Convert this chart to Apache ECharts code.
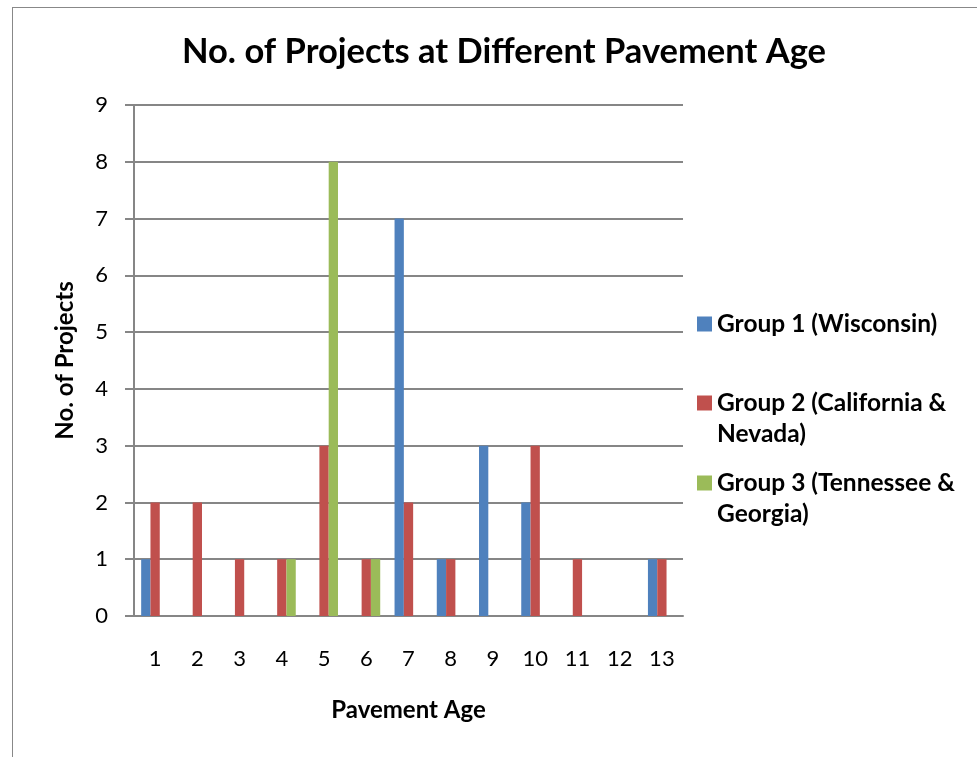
<!DOCTYPE html>
<html>
<head>
<meta charset="utf-8">
<script src="https://cdn.jsdelivr.net/npm/echarts@6/dist/echarts.min.js"></script>
<style>
  html, body { margin: 0; padding: 0; background: #fff; }
  #frame { position: absolute; left: 12px; top: 7px; width: 980px; height: 760px; border: 1px solid #888; }
  #chart { position: absolute; left: 0; top: 0; width: 977px; height: 757px; }
</style>
</head>
<body>
<div id="frame"></div>
<div id="chart"></div>
<script>
// 路面年龄分类
const ages = ['1', '2', '3', '4', '5', '6', '7', '8', '9', '10', '11', '12', '13']
const group1 = [1, 0, 0, 0, 0, 0, 7, 1, 3, 2, 0, 0, 1]
const group2 = [2, 2, 1, 1, 3, 1, 2, 1, 0, 3, 1, 0, 1]
const group3 = [0, 0, 0, 1, 8, 1, 0, 0, 0, 0, 0, 0, 0]
const yTicks = [0, 9, 1]  // min, max, interval
const names = ['Group 1 (Wisconsin)', 'Group 2 (California & Nevada)', 'Group 3 (Tennessee & Georgia)']
const colors = ['#4F81BD', '#C0504D', '#9BBB59']

const font = 'Lato, "Open Sans", sans-serif'
const chart = echarts.init(document.getElementById('chart'))

// 图例：每项单独一个legend；两行的项前面加一个空行，让色块对齐首行文字
const lineH = 31
const legendCenters = [319, 398, 478]
const legends = names.map((n, i) => {
  const twoLines = n.indexOf(' & ') > -1
  return {
    orient: 'vertical',
    left: 692,
    top: legendCenters[i] - (twoLines ? lineH * 1.5 : lineH / 2),
    itemWidth: 15,
    itemHeight: 15,
    icon: 'rect',
    data: [n],
    formatter: (name) => twoLines ? ' \n' + name.replace(' & ', ' &\n') : name,
    textStyle: { fontSize: 24.5, fontWeight: 'bold', color: '#000', lineHeight: lineH, fontFamily: font }
  }
})

const option = {
  animation: false,
  textStyle: { fontFamily: font },
  title: {
    text: 'No. of Projects at Different Pavement Age',
    left: 499,
    top: 29,
    textAlign: 'center',
    textStyle: { fontSize: 34.5, fontWeight: 'bold', color: '#000', fontFamily: font }
  },
  legend: legends,
  grid: { left: 134, right: 294, top: 105, bottom: 141 },
  xAxis: {
    type: 'category',
    data: ages,
    name: 'Pavement Age',
    nameLocation: 'middle',
    nameGap: 82,
    nameTextStyle: { fontSize: 24, fontWeight: 'bold', color: '#000' },
    axisLine: { lineStyle: { color: '#868686', width: 2 } },
    axisTick: { show: false },
    axisLabel: { fontSize: 22, color: '#000', margin: 32 }
  },
  yAxis: {
    type: 'value',
    min: yTicks[0],
    max: yTicks[1],
    interval: yTicks[2],
    name: 'No. of Projects',
    nameLocation: 'middle',
    nameGap: 57,
    nameTextStyle: { fontSize: 24, fontWeight: 'bold', color: '#000' },
    axisLine: { show: true, lineStyle: { color: '#868686', width: 2 } },
    axisTick: { show: true, length: 9, lineStyle: { color: '#868686', width: 2 } },
    axisLabel: { fontSize: 22, color: '#000', margin: 26 },
    splitLine: { lineStyle: { color: '#868686', width: 2 } }
  },
  series: [group1, group2, group3].map((d, i) => ({
    name: names[i],
    type: 'bar',
    data: d,
    barWidth: 9.3,
    barGap: '0%',
    itemStyle: { color: colors[i] }
  }))
}
chart.setOption(option)
</script>
</body>
</html>
